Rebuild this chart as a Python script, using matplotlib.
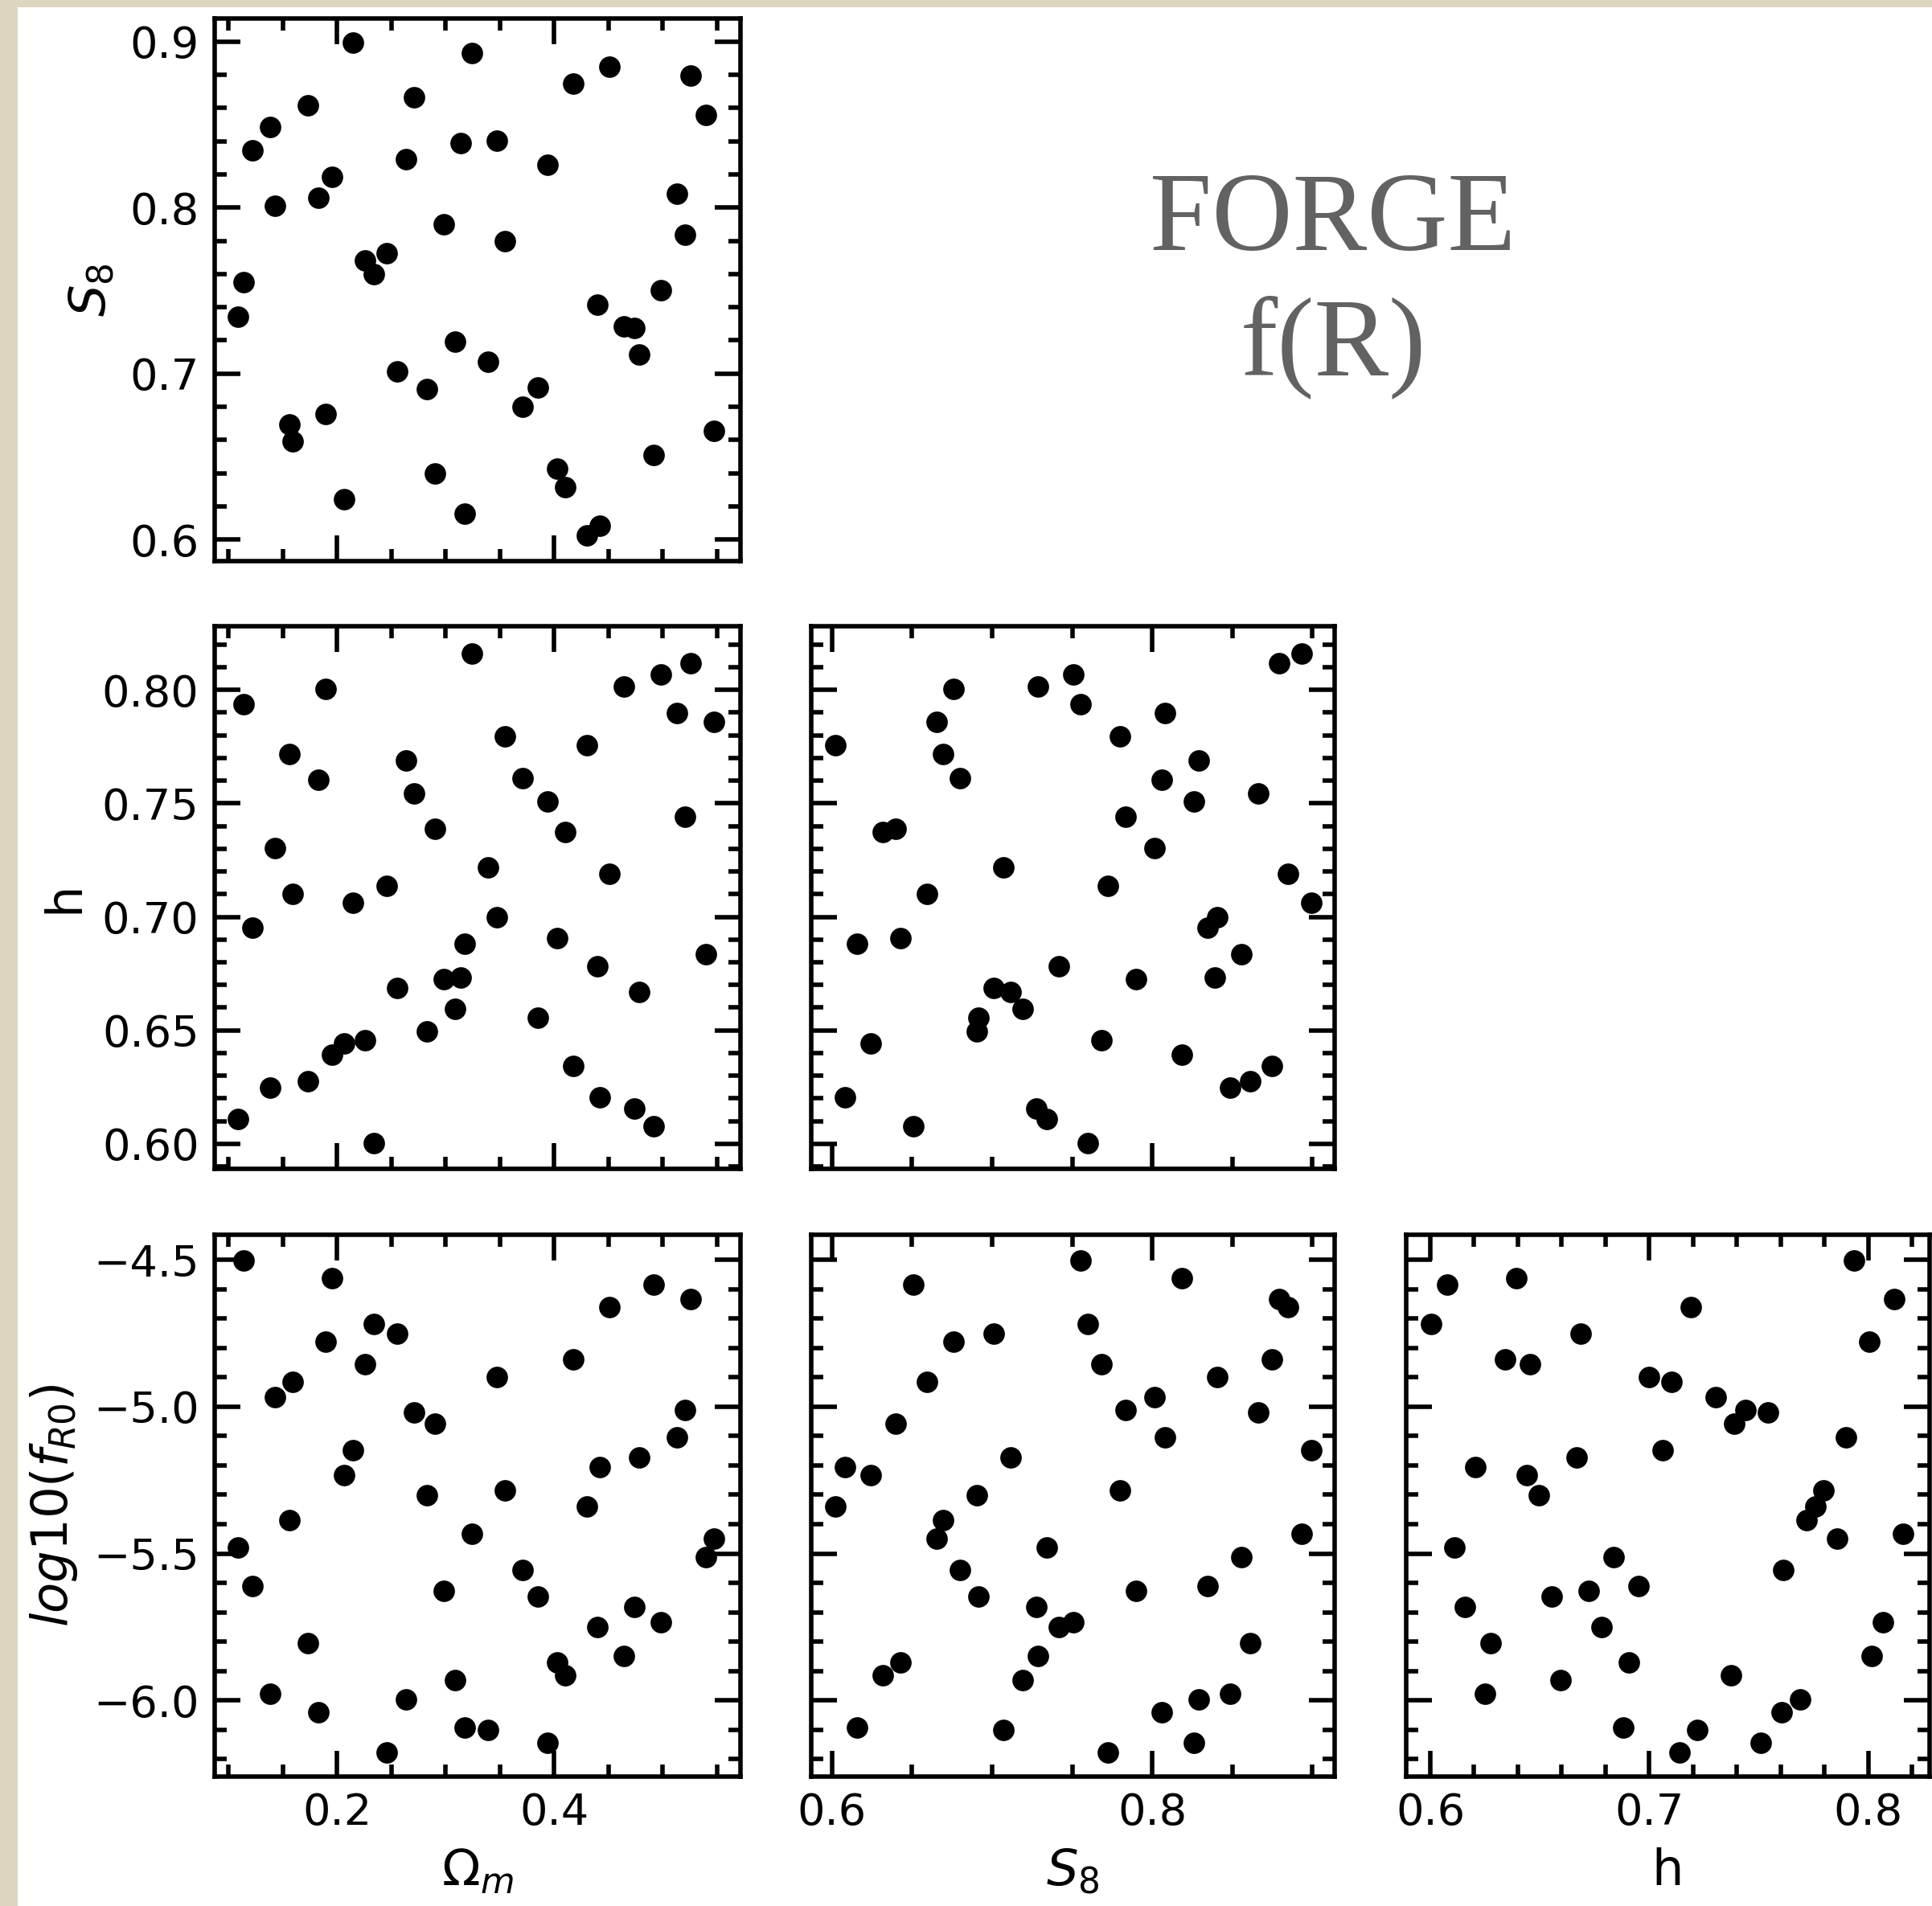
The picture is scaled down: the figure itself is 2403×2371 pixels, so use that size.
import numpy as np
import matplotlib
matplotlib.use("Agg")
import matplotlib.pyplot as plt
from matplotlib.patches import Rectangle
from matplotlib.ticker import MultipleLocator

# parameter samples (one missing log10 fR0 value)
omega_m = [0.2144, 0.3245, 0.4512, 0.5258, 0.4175, 0.2710, 0.1730, 0.5402, 0.1384, 0.1218,
           0.3142, 0.3474, 0.2638, 0.3942, 0.1955, 0.1825, 0.1425, 0.5133, 0.2984, 0.5204,
           0.3546, 0.2454, 0.2256, 0.2337, 0.1142, 0.1088, 0.4984, 0.4400, 0.4643, 0.4737,
           0.4787, 0.3088, 0.3393, 0.2557, 0.2827, 0.3847, 0.3712, 0.1897, 0.1564, 0.1587,
           0.5474, 0.4917, 0.2899, 0.4031, 0.4099, 0.2067, 0.3173, 0.4422, 0.4301]
s8 = [0.8993, 0.8933, 0.8850, 0.8794, 0.8749, 0.8664, 0.8615, 0.8559, 0.8485, 0.8344,
      0.8391, 0.8405, 0.8290, 0.8259, 0.8185, 0.8060, 0.8013, 0.8082, 0.7900, 0.7836,
      0.7800, 0.7726, 0.7684, 0.7599, 0.7552, 0.7343, 0.7505, 0.7417, 0.7287, 0.7276,
      0.7115, 0.7191, 0.7070, 0.7012, 0.6907, 0.6914, 0.6799, 0.6757, 0.6694, 0.6593,
      0.6654, 0.6508, 0.6396, 0.6426, 0.6318, 0.6242, 0.6157, 0.6083, 0.6023]
h = [0.7061, 0.8159, 0.7190, 0.8118, 0.6343, 0.7542, 0.6275, 0.6837, 0.6248, 0.6952,
     0.6732, 0.7000, 0.7689, 0.7509, 0.6392, 0.7603, 0.7304, 0.7898, 0.6725, 0.7440,
     0.7794, 0.7137, 0.6457, 0.6005, 0.7935, 0.6110, 0.8068, 0.6782, 0.8016, 0.6157,
     0.6669, 0.6596, 0.7218, 0.6688, 0.6494, 0.6554, 0.7611, 0.8005, 0.7717, 0.7101,
     0.7859, 0.6078, 0.7388, 0.6907, 0.7372, 0.6442, 0.6883, 0.6206, 0.7757]
log_fr0 = [-5.148, -5.434, -4.661, -4.632, -4.838, -5.020, -5.804, -5.512, -5.979, -5.611,
           np.nan, -4.899, -5.997, -6.146, -4.561, -6.040, -4.967, -5.104, -5.626, -5.011,
           -5.284, -6.177, -4.856, -4.719, -4.503, -5.480, -5.735, -5.751, -5.849, -5.682,
           -5.172, -5.930, -6.100, -4.750, -5.302, -5.647, -5.556, -4.777, -5.385, -4.915,
           -5.449, -4.584, -5.058, -5.872, -5.915, -5.233, -6.093, -5.206, -5.340]

params = [np.array(omega_m), np.array(s8), np.array(h), np.array(log_fr0)]
labels = [r"$\Omega_m$", r"$S_8$", "h", r"$log10(f_{R0})$"]
limits = [(0.0872, 0.5717), (0.587, 0.914), (0.589, 0.828), (-6.26, -4.414)]
# (major, minor) steps when the parameter is on x / on y
x_steps = [(0.2, 0.05), (0.2, 0.05), (0.1, 0.02)]
y_steps = [None, (0.1, 0.02), (0.05, 0.01), (0.5, 0.1)]

W, H = 2403, 2371
fig = plt.figure(figsize=(W / 100, H / 100), dpi=100, facecolor="#dcd6c0")
fig.patches.append(Rectangle((22 / W, 0), 1, 1 - 9 / H, transform=fig.transFigure,
                             facecolor="white", edgecolor="none", zorder=-10))

cols_px = [(267, 921), (1009, 1660), (1749, 2400)]
rows_px = [(23, 698), (779, 1454), (1536, 2210)]

tick_fs = 39
label_fs = 45

for i in range(3):          # row -> y parameter i+1
    for j in range(i + 1):  # col -> x parameter j
        x0, x1 = cols_px[j]
        y0, y1 = rows_px[i]
        ax = fig.add_axes([x0 / W, 1 - y1 / H, (x1 - x0) / W, (y1 - y0) / H])
        ax.patch.set_alpha(0)
        xi, yi = j, i + 1
        ax.scatter(params[xi], params[yi], s=370, c="black", linewidths=0)
        ax.set_xlim(limits[xi])
        ax.set_ylim(limits[yi])
        ax.xaxis.set_major_locator(MultipleLocator(x_steps[xi][0]))
        ax.xaxis.set_minor_locator(MultipleLocator(x_steps[xi][1]))
        ax.yaxis.set_major_locator(MultipleLocator(y_steps[yi][0]))
        ax.yaxis.set_minor_locator(MultipleLocator(y_steps[yi][1]))
        ax.tick_params(which="both", direction="in", top=True, right=True,
                       width=4, labelsize=tick_fs)
        ax.tick_params(which="major", length=23, pad=14)
        ax.tick_params(which="minor", length=11)
        for sp in ax.spines.values():
            sp.set_linewidth(4)
        if j == 0:
            ax.set_ylabel(labels[yi], fontsize=label_fs, labelpad=12)
        else:
            ax.tick_params(labelleft=False)
        if i == 2:
            ax.set_xlabel(labels[xi], fontsize=label_fs, labelpad=12)
        else:
            ax.tick_params(labelbottom=False)

fig.text(1658 / W, 1 - 311 / H, "FORGE", ha="center", va="baseline",
         family="Liberation Serif", fontsize=100, color="#626262")
fig.text(1658 / W, 1 - 466 / H, "f(R)", ha="center", va="baseline",
         family="Liberation Serif", fontsize=100, color="#626262")

fig.savefig("out.png", dpi=100, facecolor=fig.get_facecolor())
